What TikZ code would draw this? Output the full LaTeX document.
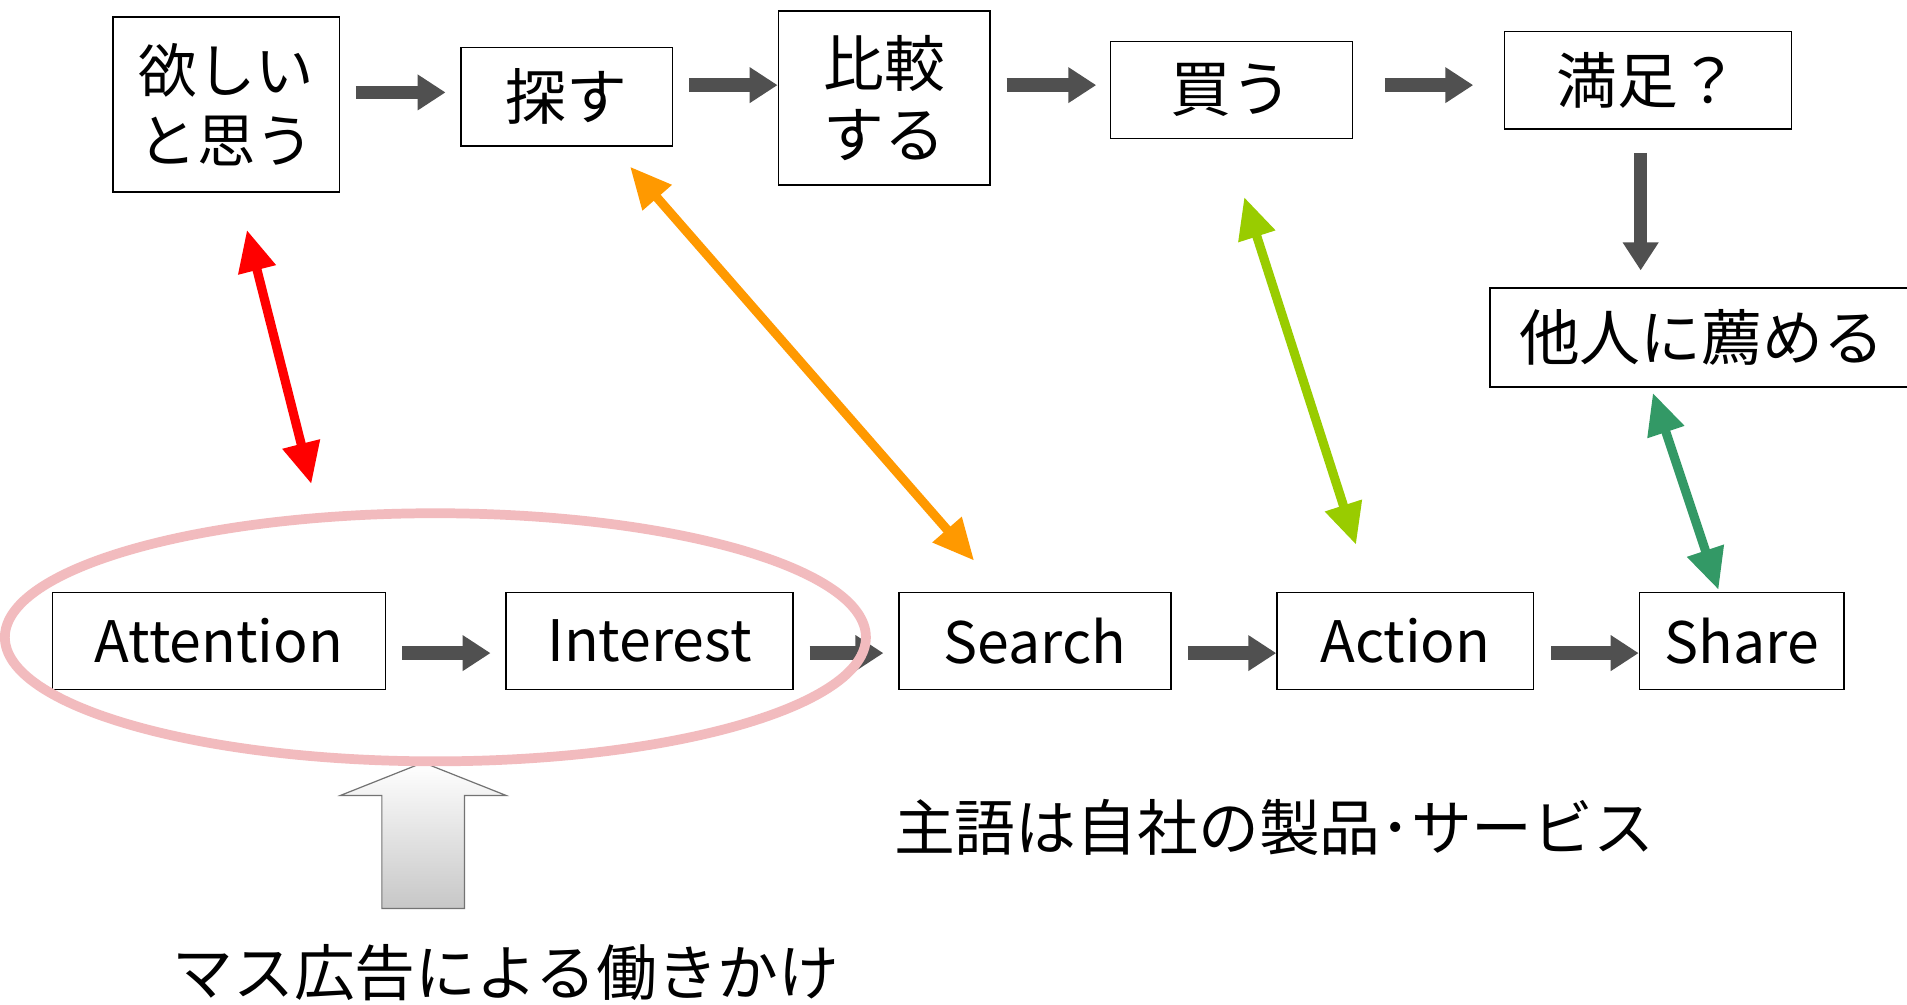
\documentclass[tikz,border=0pt]{standalone}
\usepackage{fontspec}
\setmainfont{Noto Sans CJK JP}
\usetikzlibrary{arrows.meta,calc}
\definecolor{arrgray}{HTML}{505050}
\definecolor{ellpink}{HTML}{F2BBBE}
\definecolor{cred}{HTML}{FF0000}
\definecolor{corange}{HTML}{FF9900}
\definecolor{cyg}{HTML}{99CC00}
\definecolor{cgreen}{HTML}{339966}
\tikzset{
  box/.style={draw=black, line width=1.3pt, inner sep=0pt, align=center, fill=white,
    font=\fontsize{50}{58}\selectfont},
  ebox/.style={box, font=\fontsize{47}{58}\selectfont},
  blk/.style={draw=arrgray, line width=11pt, -{Triangle[length=23pt,width=28pt]}},
  dbl/.style={line width=7.5pt, {Triangle[length=34pt,width=30pt]}-{Triangle[length=34pt,width=30pt]}},
  lbl/.style={inner sep=0pt, font=\fontsize{50}{58}\selectfont},
}
\begin{document}
\begin{tikzpicture}[x=1pt,y=-1pt]
\useasboundingbox (0,0) rectangle (1568,826);
\clip (0,0) rectangle (1568,826);
\fill[white] (0,0) rectangle (1568,826);
% top row
\node[box, font=\fontsize{48}{58}\selectfont, minimum width=186pt, minimum height=144pt] (b1) at (186,86) {欲しい\\と思う};
\node[box, minimum width=174pt, minimum height=81pt] (b2) at (466,79.5) {探す};
\node[box, minimum width=174pt, minimum height=143pt] (b3) at (727,80.5) {比較\\する};
\node[box, minimum width=199pt, minimum height=80pt] (b4) at (1012.5,74) {買う};
\node[box, minimum width=236pt, minimum height=80pt] (b5) at (1355,66) {満足？};
\node[box, minimum width=348pt, minimum height=81pt] (b6) at (1399,277.5) {他人に薦める};
% bottom row
\node[ebox, minimum width=274pt, minimum height=80pt] (att) at (180,527) {Attention};
\node[ebox, minimum width=236pt, minimum height=80pt] (int) at (534,527) {Interest};
\node[ebox, minimum width=224pt, minimum height=80pt] (sea) at (851,527) {Search};
\node[ebox, minimum width=211pt, minimum height=80pt] (act) at (1155.5,527) {Action};
\node[ebox, minimum width=168pt, minimum height=80pt] (sha) at (1432,527) {Share};
% gray flow arrows
\draw[blk, shorten <=13pt, shorten >=12pt] (b1.east |- 0,76) -- (b2.west |- 0,76);
\draw[blk, shorten <=13pt] (b2.east |- 0,70) -- (b3.west |- 0,70);
\draw[blk, shorten <=13pt, shorten >=11pt] (b3.east |- 0,70) -- (b4.west |- 0,70);
\draw[blk, shorten <=26pt, shorten >=25pt] (b4.east |- 0,70) -- (b5.west |- 0,70);
\draw[blk, shorten <=19pt, shorten >=14pt] (b5.south -| 1349,0) -- (b6.north -| 1349,0);
\draw[blk, shorten <=13pt, shorten >=12pt] (att.east |- 0,537) -- (int.west |- 0,537);
\draw[blk, shorten <=13pt, shorten >=12pt] (int.east |- 0,537) -- (sea.west |- 0,537);
\draw[blk, shorten <=13pt] (sea.east |- 0,537) -- (act.west |- 0,537);
\draw[blk, shorten <=14pt] (act.east |- 0,537) -- (sha.west |- 0,537);
% colored double arrows
\coordinate (r1) at (203,189);
\coordinate (r2) at (256,398);
\coordinate (o1) at (518,137);
\coordinate (o2) at (801,461);
\coordinate (y1) at (1023,162);
\coordinate (y2) at (1115,448);
\coordinate (g1) at (1359,323);
\coordinate (g2) at (1413,485);
\draw[dbl, draw=cred, fill=cred] (r1) -- (r2);
\draw[dbl, draw=corange, fill=corange] (o1) -- (o2);
\draw[dbl, draw=cyg, fill=cyg] (y1) -- (y2);
\draw[dbl, draw=cgreen, fill=cgreen] (g1) -- (g2);
% big block arrow
\shade[top color=white, bottom color=black!22, draw=black!55, line width=1pt]
  (348,627) -- (416,654) -- (382,654) -- (382,747) -- (314,747) -- (314,654) -- (280,654) -- cycle;
% ellipse
\draw[ellpink, line width=8pt] (358,524) ellipse [x radius=354pt, y radius=102pt];
% labels
\node[lbl] (mass) at (416,800) {マス広告による働きかけ};
\node[lbl, anchor=west] (subj) at (735,680) {主語は自社の製品･サービス};
\end{tikzpicture}
\end{document}
